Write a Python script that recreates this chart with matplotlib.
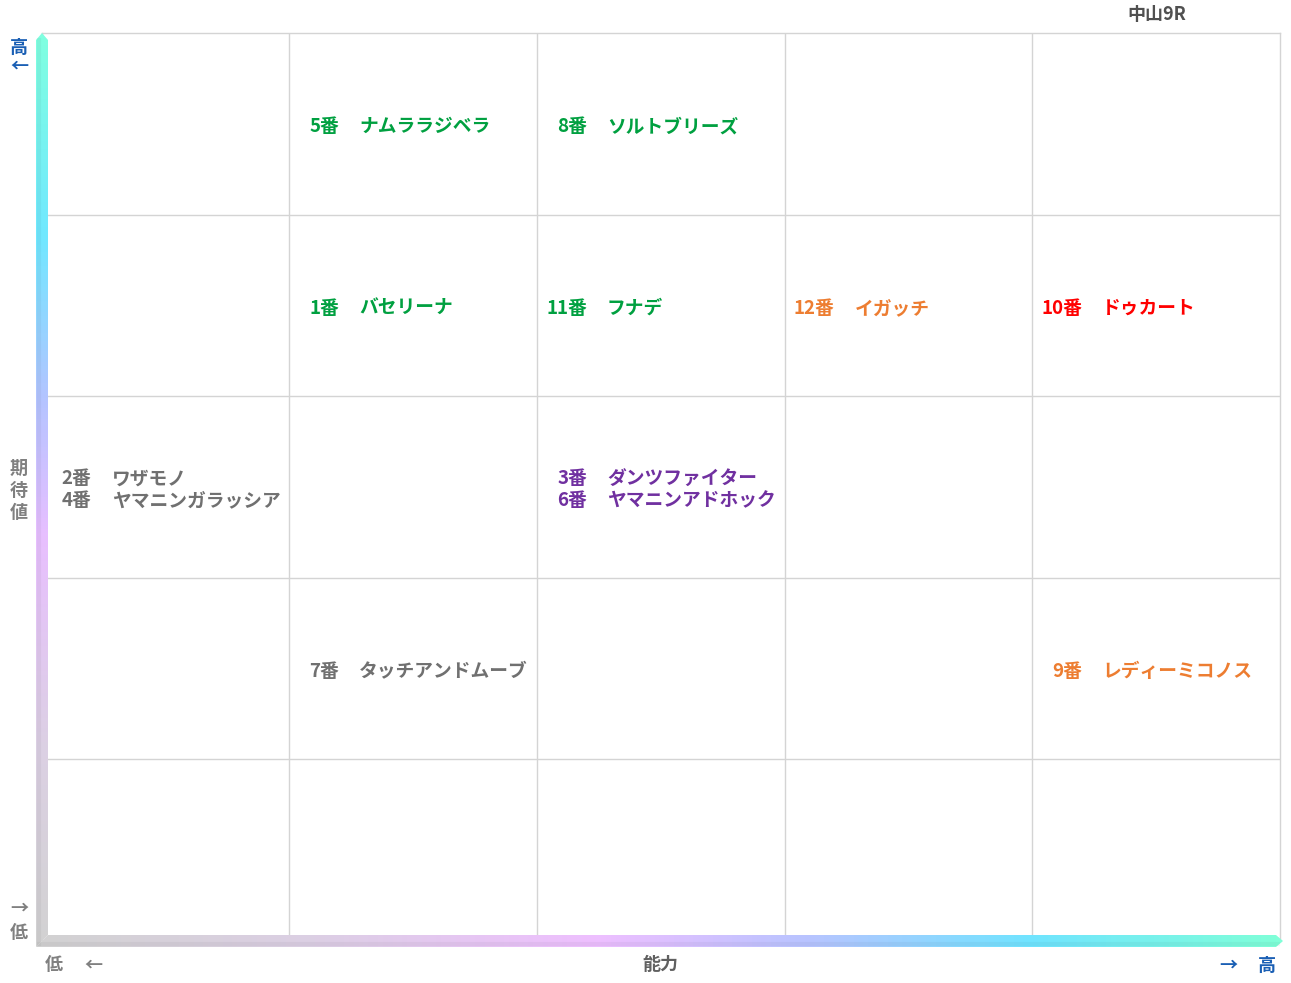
import numpy as np
import matplotlib
matplotlib.use("Agg")
import matplotlib.pyplot as plt
from matplotlib.colors import LinearSegmentedColormap
from matplotlib.patches import Polygon

plt.rcParams['font.family'] = ['Noto Sans CJK JP', 'DejaVu Sans']

# ---- data ----
title = "中山9R"
x_label = "能力"
y_label = "期待値"
n_cols = 5
n_rows = 5
# (column index 能力, row index 期待値, numbers, names, colour)
cell_cols = [1, 2, 1, 2, 3, 4, 0, 2, 1, 4]
cell_rows = [4, 4, 3, 3, 3, 3, 2, 2, 1, 1]
cell_nums = [["5"], ["8"], ["1"], ["11"], ["12"], ["10"], ["2", "4"], ["3", "6"], ["7"], ["9"]]
cell_names = [["ナムララジベラ"], ["ソルトブリーズ"], ["バセリーナ"], ["フナデ"], ["イガッチ"],
              ["ドゥカート"], ["ワザモノ", "ヤマニンガラッシア"], ["ダンツファイター", "ヤマニンアドホック"],
              ["タッチアンドムーブ"], ["レディーミコノス"]]
cell_colors = ["#00a040", "#00a040", "#00a040", "#00a040", "#ed7d31",
               "#ff0000", "#707070", "#7030a0", "#707070", "#ed7d31"]

W, H = 1291, 983
fig = plt.figure(figsize=(W / 100, H / 100), dpi=100)

# main grid axes (pixel box 41.6..1280 x 33..941)
L, R, T, B = 41.6, 1280, 33, 941
ax = fig.add_axes([L / W, (H - B) / H, (R - L) / W, (B - T) / H])
ax.set_xlim(0, n_cols)
ax.set_ylim(0, n_rows)
for s in ax.spines.values():
    s.set_color("#d4d4d4")
    s.set_linewidth(1)
ax.set_xticks([])
ax.set_yticks([])
for i in range(1, n_cols):
    ax.axvline(i, color="#d4d4d4", lw=1)
for j in range(1, n_rows):
    ax.axhline(j, color="#d4d4d4", lw=1)

col_w = (R - L) / n_cols
row_h = (B - T) / n_rows
num_off = 50 / col_w
name_off = 70 / col_w
y_shift = 3 / row_h
fs = 13.5
for c, r, nums, names, colr in zip(cell_cols, cell_rows, cell_nums, cell_names, cell_colors):
    yc = r + 0.5 - y_shift
    ax.text(c + num_off, yc, "\n".join(n + "番" for n in nums), ha="right", va="center",
            multialignment="right", color=colr, fontsize=fs, fontweight="bold", linespacing=1.2)
    ax.text(c + name_off, yc, "\n".join(names), ha="left", va="center",
            multialignment="left", color=colr, fontsize=fs, fontweight="bold", linespacing=1.2)

# decorative gradient axis bars (figure pixel overlay)
ov = fig.add_axes([0, 0, 1, 1], zorder=5)
ov.set_xlim(0, W)
ov.set_ylim(H, 0)
ov.axis("off")
ov.patch.set_alpha(0)

vcmap = LinearSegmentedColormap.from_list("v", [
    (0.0, "#80ffe0"), (0.22, "#70e8ff"), (0.40, "#b4c4ff"), (0.55, "#e8bfff"),
    (0.78, "#dcd0e4"), (1.0, "#d2d2d2")])
hcmap = LinearSegmentedColormap.from_list("h", [
    (0.0, "#d2d2d2"), (0.22, "#dccfe4"), (0.45, "#eebfff"), (0.62, "#b8c4ff"),
    (0.80, "#70e4ff"), (1.0, "#80ffd8")])

bw = 6
vx0, vx1 = 42 - bw, 42 + bw
hy0, hy1 = 941 - bw, 941 + bw
grad = np.linspace(0, 1, 256)
im_v = ov.imshow(grad[:, None], cmap=vcmap, aspect="auto", extent=(vx0, vx1, hy1, 33),
                 interpolation="bilinear", zorder=5)
poly_v = Polygon([(vx0, hy1), (vx1, hy0), (vx1, 40), (42, 33), (vx0, 40)], closed=True,
                 transform=ov.transData, facecolor="none", edgecolor="none")
ov.add_patch(poly_v)
im_v.set_clip_path(poly_v)

im_h = ov.imshow(grad[None, :], cmap=hcmap, aspect="auto", extent=(vx0, 1283, hy1, hy0),
                 interpolation="bilinear", zorder=5)
poly_h = Polygon([(vx0, hy1), (vx1, hy0), (1276, hy0), (1283, 941), (1276, hy1)], closed=True,
                 transform=ov.transData, facecolor="none", edgecolor="none")
ov.add_patch(poly_h)
im_h.set_clip_path(poly_h)

# subtle shading stripe for 3D look
ov.plot([vx0 + 3, vx0 + 3], [hy1 - 3, 40], color="black", alpha=0.04, lw=3, zorder=6)
ov.plot([vx0 + 3, 1278], [hy1 - 3, hy1 - 3], color="black", alpha=0.04, lw=3, zorder=6)

blue = "#1a5fb4"
grey = "#808080"
afs = 13
kw = dict(ha="center", va="center", fontsize=afs, fontweight="bold")
ov.text(19, 47, "高", color=blue, **kw)
ov.text(19, 66, "←", color=blue, **kw)
ov.text(19, 908, "→", color=grey, **kw)
ov.text(19, 932, "低", color=grey, **kw)
ov.text(19, 490, "\n".join(y_label), color=grey, linespacing=1.2, **kw)
ov.text(54, 965, "低", color=grey, **kw)
ov.text(93, 965, "←", color=grey, **kw)
ov.text(660, 965, x_label, color="#606060", **kw)
ov.text(1228, 965, "→", color=blue, **kw)
ov.text(1267, 965, "高", color=blue, **kw)
ov.text(1157, 14, title, color="#505050", **kw)

fig.savefig("out.png", dpi=100, facecolor="white")
